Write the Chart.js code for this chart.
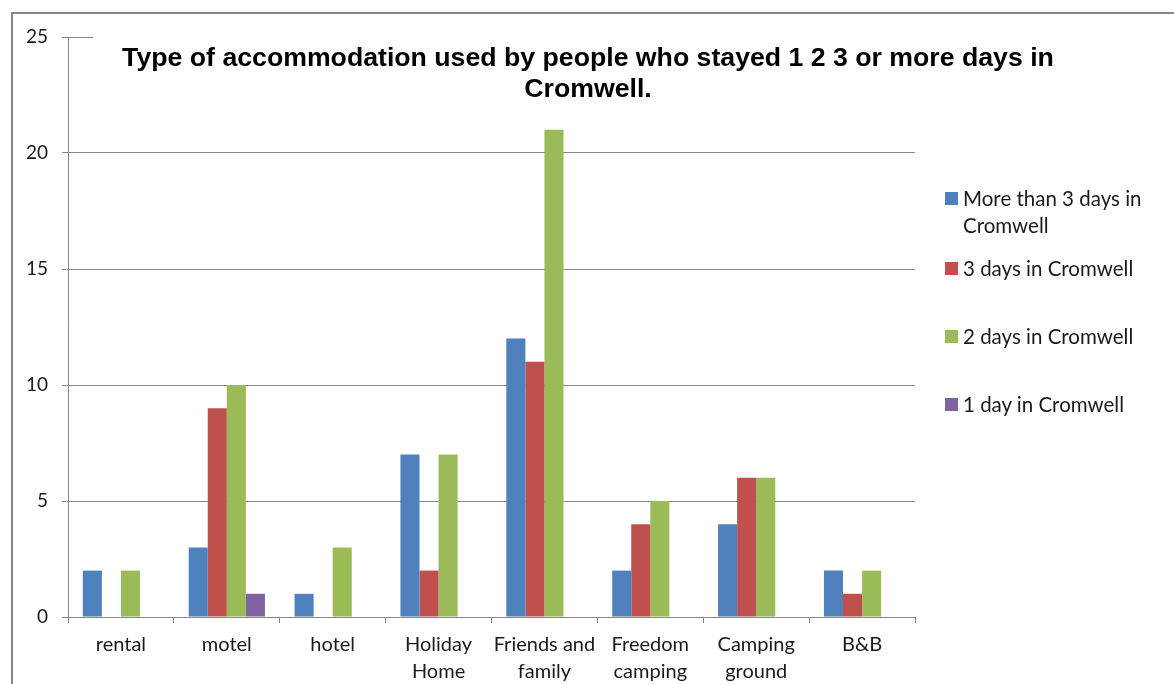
<!DOCTYPE html>
<html>
<head>
<meta charset="utf-8">
<script src="https://cdn.jsdelivr.net/npm/chart.js@4/dist/chart.umd.min.js"></script>
<style>
  html, body { margin:0; padding:0; background:#fff; width:1174px; height:684px; overflow:hidden; }
  #frame { position:absolute; left:11px; top:12px; width:1200px; height:700px; border-left:2px solid #878787; border-top:2px solid #878787; box-sizing:border-box; }
  #c { position:absolute; left:0; top:0; }
  #legend { position:absolute; left:945px; top:0; font-family:Lato, "Open Sans", sans-serif; font-size:20.5px; color:#1a1a1a; }
  .item { position:absolute; left:0; width:225px; display:flex; align-items:flex-start; line-height:27px; }
  .sw { width:13px; height:13px; flex:none; margin-top:7px; margin-right:5px; }
</style>
</head>
<body>
<div id="frame"></div>
<canvas id="c" width="1174" height="684"></canvas>
<div id="legend"></div>
<script>
const categories = ["rental", ["motel"], "hotel", ["Holiday", "Home"], ["Friends and", "family"], ["Freedom", "camping"], ["Camping", "ground"], "B&B"];
const seriesNames = ["More than 3 days in Cromwell", "3 days in Cromwell", "2 days in Cromwell", "1 day in Cromwell"];
const moreThan3Days = [2, 3, 1, 7, 12, 2, 4, 2];
const threeDays = [0, 9, 0, 2, 11, 4, 6, 1];
const twoDays = [2, 10, 3, 7, 21, 5, 6, 2];
const oneDay = [0, 1, 0, 0, 0, 0, 0, 0];
const yTicks = [0, 5, 10, 15, 20, 25];
const titleLines = ["Type of accommodation used by people who stayed 1 2 3 or more days in", "Cromwell."];

const colors = ["#4F81BD", "#C0504D", "#9BBB59", "#8064A2"];
const seriesValues = [moreThan3Days, threeDays, twoDays, oneDay];
const gridColor = "#878787";
const fontFam = "Lato, 'Open Sans', sans-serif";

const titlePlugin = {
  id: 'overlayTitle',
  afterDraw(chart) {
    const ctx = chart.ctx;
    ctx.save();
    ctx.fillStyle = '#fff';
    ctx.fillRect(93, 30, 990, 75);
    ctx.fillStyle = '#000';
    ctx.textAlign = 'center';
    ctx.textBaseline = 'middle';
    ctx.font = "bold 20px 'Liberation Sans', Arial, sans-serif";
    const w = ctx.measureText(titleLines[0]).width;
    const size = 20 * 932 / w;
    ctx.font = "bold " + size.toFixed(2) + "px 'Liberation Sans', Arial, sans-serif";
    ctx.fillText(titleLines[0], 588, 59);
    ctx.fillText(titleLines[1], 588, 90);
    ctx.restore();
  }
};

new Chart(document.getElementById('c'), {
  type: 'bar',
  data: {
    labels: categories,
    datasets: seriesNames.map((n, i) => ({
      label: n,
      data: seriesValues[i],
      backgroundColor: colors[i],
      borderWidth: 0,
      categoryPercentage: 0.72,
      barPercentage: 1.0
    }))
  },
  options: {
    responsive: false,
    animation: false,
    devicePixelRatio: 1,
    layout: { padding: { top: 37, right: 259, left: 0, bottom: 0 } },
    plugins: { legend: { display: false }, title: { display: false }, tooltip: { enabled: false } },
    scales: {
      x: {
        grid: { display: true, drawOnChartArea: false, drawTicks: true, tickLength: 6, color: gridColor, offset: true },
        border: { color: gridColor, width: 1 },
        ticks: { color: '#1a1a1a', font: { family: fontFam, size: 20, lineHeight: 1.35 }, maxRotation: 0, minRotation: 0, autoSkip: false, padding: 8 },
        afterFit(s) { s.height = 67; }
      },
      y: {
        min: 0, max: 25,
        afterBuildTicks(s) { s.ticks = yTicks.map(v => ({ value: v })); },
        grid: { color: gridColor, tickLength: 6, drawTicks: true },
        border: { color: gridColor, width: 1 },
        ticks: { color: '#1a1a1a', font: { family: fontFam, size: 19 }, padding: 14 },
        afterFit(s) { s.width = 68; }
      }
    }
  },
  plugins: [titlePlugin]
});

const tops = [185, 255, 323, 391];
const legend = document.getElementById('legend');
seriesNames.forEach((n, i) => {
  const d = document.createElement('div');
  d.className = 'item';
  d.style.top = tops[i] + 'px';
  const sw = document.createElement('div');
  sw.className = 'sw';
  sw.style.background = colors[i];
  const t = document.createElement('div');
  t.textContent = n;
  d.appendChild(sw); d.appendChild(t);
  legend.appendChild(d);
});
</script>
</body>
</html>
